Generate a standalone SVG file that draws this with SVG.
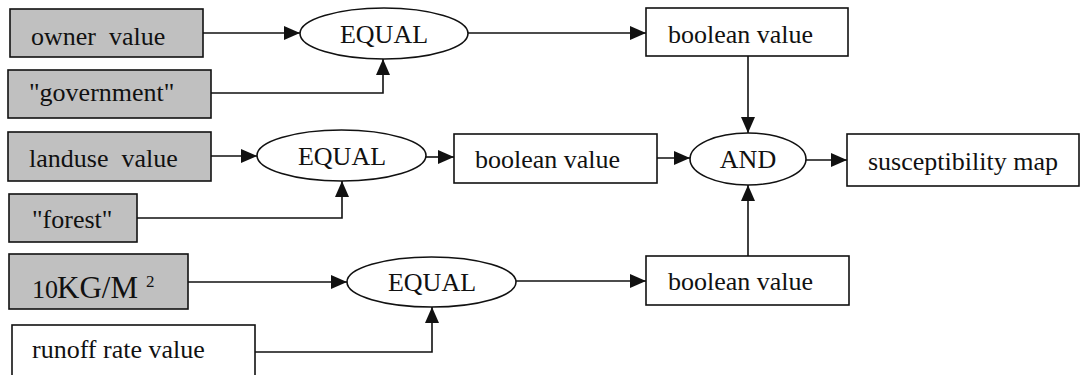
<svg xmlns="http://www.w3.org/2000/svg" width="1081" height="375" viewBox="0 0 1081 375">
<style>
.box{fill:#fff;stroke:#111;stroke-width:1.6}
.grey{fill:#c0c0c0}
.ell{fill:#fff;stroke:#111;stroke-width:1.6}
.t{font-family:"Liberation Serif","Times New Roman",serif;font-size:26px;fill:#111;white-space:pre}
.c{text-anchor:middle}
.con{fill:none;stroke:#111;stroke-width:1.6;marker-end:url(#ah)}
</style>
<defs>
<marker id="ah" markerUnits="userSpaceOnUse" markerWidth="17" markerHeight="14" refX="16" refY="7" orient="auto">
<path d="M0,0 L16,7 L0,14 z" fill="#111"/>
</marker>
</defs>
<rect width="1081" height="375" fill="#fff"/>
<g id="connectors">
<path class="con" d="M203,33 H300"/>
<path class="con" d="M211,93 H383 V59"/>
<path class="con" d="M468,33 H646"/>
<path class="con" d="M211,156 H257"/>
<path class="con" d="M137,218 H342 V181"/>
<path class="con" d="M426,157 H454"/>
<path class="con" d="M657,158 H690"/>
<path class="con" d="M748,56 V133"/>
<path class="con" d="M806,160 H847"/>
<path class="con" d="M748,256 V185"/>
<path class="con" d="M188,282 H347"/>
<path class="con" d="M255,352 H432 V307"/>
<path class="con" d="M516,281 H646"/>
</g>
<g id="owner"><rect class="box grey" x="10" y="9" width="193" height="48"/><text class="t" x="31" y="45">owner  value</text></g>
<g id="government"><rect class="box grey" x="8" y="70" width="203" height="48"/><text class="t" x="29" y="101">"government"</text></g>
<g id="landuse"><rect class="box grey" x="8" y="132" width="203" height="49"/><text class="t" x="29" y="167">landuse  value</text></g>
<g id="forest"><rect class="box grey" x="9" y="194" width="128" height="48"/><text class="t" x="32" y="228">"forest"</text></g>
<g id="kgm2"><rect class="box grey" x="9" y="254" width="179" height="55"/><text class="t" x="32" y="298"><tspan font-size="26">10</tspan><tspan font-size="31" x="57">KG/M</tspan><tspan font-size="17" x="146" y="287">2</tspan></text></g>
<g id="runoff"><rect class="box" x="12" y="325" width="243" height="60"/><text class="t" x="32" y="358">runoff rate value</text></g>
<g id="equal1"><ellipse class="ell" cx="384" cy="33.5" rx="84" ry="25.5"/><text class="t c" x="384" y="43">EQUAL</text></g>
<g id="equal2"><ellipse class="ell" cx="341.5" cy="155.5" rx="84.5" ry="25.5"/><text class="t c" x="342" y="165">EQUAL</text></g>
<g id="equal3"><ellipse class="ell" cx="431.5" cy="282" rx="84.5" ry="25"/><text class="t c" x="432" y="291">EQUAL</text></g>
<g id="bool1"><rect class="box" x="646" y="8" width="202" height="48"/><text class="t" x="668" y="43">boolean value</text></g>
<g id="bool2"><rect class="box" x="454" y="134" width="203" height="49"/><text class="t" x="475" y="168">boolean value</text></g>
<g id="bool3"><rect class="box" x="646" y="256" width="203" height="49"/><text class="t" x="668" y="290">boolean value</text></g>
<g id="and"><ellipse class="ell" cx="748" cy="159" rx="58" ry="26"/><text class="t c" x="748" y="168">AND</text></g>
<g id="susceptibility"><rect class="box" x="847" y="134" width="232" height="52"/><text class="t" x="868" y="170">susceptibility map</text></g>
</svg>
